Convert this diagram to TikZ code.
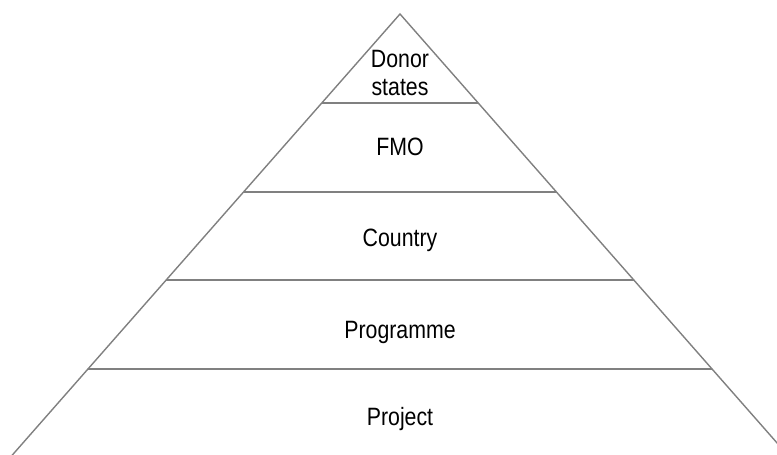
\documentclass[tikz,border=0pt]{standalone}
\usepackage{fontspec}
\setmainfont{Liberation Sans}[FakeStretch=0.85]
\usetikzlibrary{calc}
\definecolor{edgegray}{RGB}{128,128,128}
\begin{document}
\begin{tikzpicture}[x=0.75pt,y=-0.75pt,
  side/.style={draw=edgegray,line width=1.05pt},
  layer/.style={draw=edgegray,line width=1.5pt},
  lbl/.style={inner sep=0pt,anchor=base,font=\fontsize{18.8}{21}\selectfont,align=center}]
\useasboundingbox (0,0) rectangle (777,454);
\clip (0,0) rectangle (777,454);
\coordinate (apex) at (400,14);
\coordinate (bl) at (9.72,458);
\coordinate (br) at (790.28,458);
\foreach \t/\n in {0.2/a,0.4/b,0.6/c,0.8/d}{
  \coordinate (L\n) at ($(apex)!\t!(bl)$);
  \coordinate (R\n) at ($(apex)!\t!(br)$);
  \draw[layer] (L\n) -- (R\n);
}
\draw[side] (bl) -- (apex) -- (br);
\node[lbl] (donor) at (400,95) {Donor\\states};
\node[lbl] (fmo) at (400,155) {FMO};
\node[lbl] (country) at (400,246) {Country};
\node[lbl] (programme) at (400,338) {Programme};
\node[lbl] (project) at (400,425) {Project};
\end{tikzpicture}
\end{document}
